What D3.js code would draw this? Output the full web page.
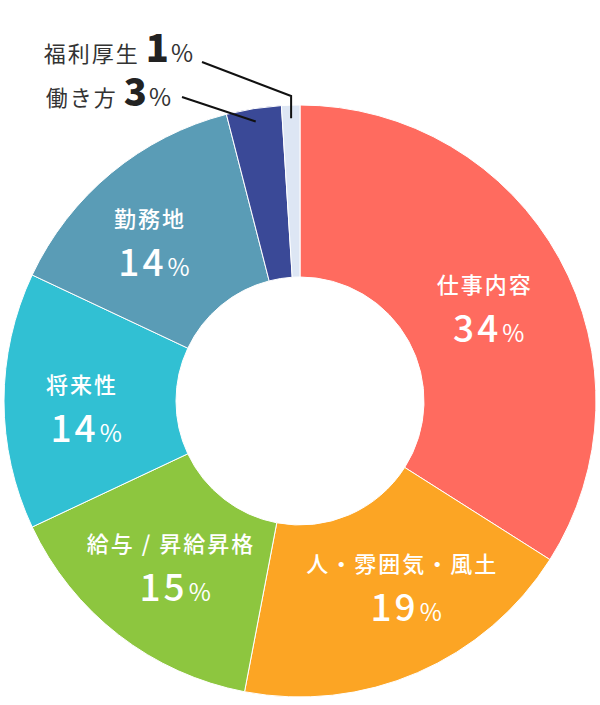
<!DOCTYPE html>
<html><head><meta charset="utf-8">
<script src="https://cdn.jsdelivr.net/npm/d3@7"></script>
<style>html,body{margin:0;padding:0;background:#fff;}svg{display:block;}</style>
</head><body>
<svg id="chart" width="600" height="705"></svg>
<script>
const categories = ["仕事内容","人・雰囲気・風土","給与 / 昇給昇格","将来性","勤務地","働き方","福利厚生"];
const values = [34,19,15,14,14,3,1];
const colors = ["#FF6B5F","#FCA524","#8DC63F","#31C0D3","#5A9CB6","#3A4997","#DDE6F4"];
// inside-label tweaks (degrees, px) per category, only for the first five
const labelAngleNudge = [1.9,-5.1,0.2,-1.8,-4.0];
const labelRadius = [206,212,211,219,219];
// outside labels: index, anchor end x and baseline
const outside = [
  {i:6, endX:193, base:62, elbowY:96, lineTo:[202,62]},
  {i:5, endX:171, base:106, elbowY:null, lineTo:[182,97]}
];

const svg = d3.select("#chart");
const cx = 300, cy = 401, R = 296, r0 = 124;
const g = svg.append("g").attr("transform",`translate(${cx},${cy})`);
const pie = d3.pie().sort(null).value(d=>d)(values);
const arc = d3.arc().innerRadius(r0).outerRadius(R);

g.selectAll("path.slice").data(pie).join("path")
  .attr("class","slice")
  .attr("d",arc)
  .attr("fill",(d,i)=>colors[i])
  .attr("stroke","#fff").attr("stroke-width",1);

const font = "'Noto Sans CJK JP','Noto Sans',sans-serif";

// inside labels
pie.slice(0,5).forEach((d,i)=>{
  const a = (d.startAngle+d.endAngle)/2 + labelAngleNudge[i]*Math.PI/180;
  const x = labelRadius[i]*Math.sin(a), y = -labelRadius[i]*Math.cos(a);
  g.append("text").attr("x",x+1).attr("y",y-15)
    .attr("text-anchor","middle").attr("fill","#fff")
    .style("font-family",font).style("font-size","22px").style("font-weight",500)
    .style("letter-spacing","2px")
    .text(categories[i]);
  const t = g.append("text").attr("x",x+5).attr("y",y+34)
    .attr("text-anchor","middle").attr("fill","#fff")
    .style("font-family",font);
  t.append("tspan").style("font-size","37px").style("font-weight",500)
    .style("letter-spacing","3px").text(values[i]);
  t.append("tspan").attr("dx",1).style("font-size","24px").style("font-weight",400).text("%");
});

// outside labels with leader lines
outside.forEach(o=>{
  const d = pie[o.i];
  const a = (d.startAngle+d.endAngle)/2;
  const px = 283*Math.sin(a), py = -283*Math.cos(a);
  const pts = [[px,py]];
  if(o.elbowY!==null) pts.push([px,o.elbowY-cy]);
  pts.push([o.lineTo[0]-cx,o.lineTo[1]-cy]);
  g.append("path").attr("d",d3.line()(pts)).attr("fill","none")
    .attr("stroke","#111").attr("stroke-width",2);
  const t = svg.append("text").attr("x",o.endX).attr("y",o.base)
    .attr("text-anchor","end").attr("fill","#333").style("font-family",font);
  t.append("tspan").style("font-size","22px").style("font-weight",400)
    .style("letter-spacing","2px").text(categories[o.i]);
  t.append("tspan").attr("dx",6).style("font-size","38px").style("font-weight",900)
    .attr("fill","#222").text(values[o.i]);
  t.append("tspan").attr("dx",2).style("font-size","24px").style("font-weight",400).text("%");
});
</script>
</body></html>
